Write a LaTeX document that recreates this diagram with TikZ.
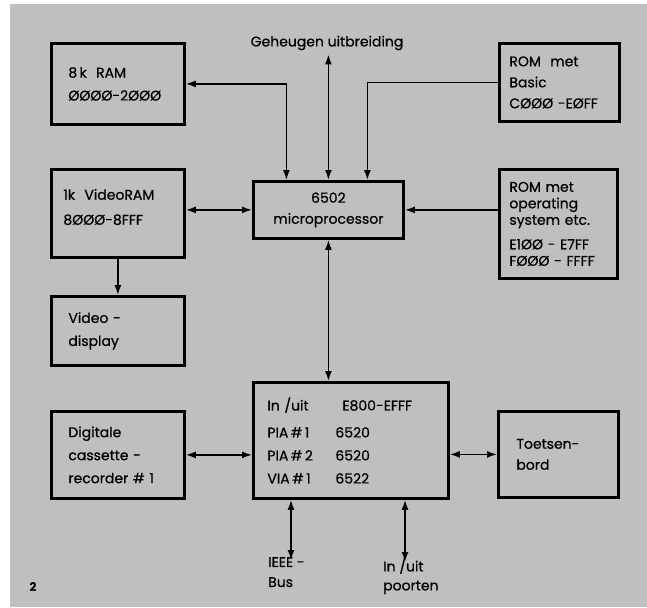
\documentclass[tikz,border=0pt]{standalone}
\usepackage{fontspec}
\setmainfont{Poppins}[UprightFeatures={FakeBold=0.6}]
\usetikzlibrary{arrows.meta,positioning}

\begin{document}
\begin{tikzpicture}[
  x=1pt,
  y=-1pt,
  >={Latex[length=10pt,width=7pt]},
  blok/.style={draw, line width=2.8pt, anchor=north west, align=left, inner sep=0pt, font=\fontsize{14}{17}\selectfont},
  lbl/.style={font=\fontsize{14}{17}\selectfont, align=left, inner sep=0pt},
  link/.style={line width=1.6pt}
]
  % background
  \useasboundingbox (0,0) rectangle (647,607);
  \fill[black!25] (10,4) rectangle (647,607);

  % left column
  \node[blok, minimum width=133pt, minimum height=81pt, text width=99pt, font=\fontsize{14}{23}\selectfont] (ram) at (50,42) {8\,k\ \ RAM\\ØØØØ-2ØØØ};
  \node[blok, minimum width=133pt, minimum height=88pt, text width=109pt, font=\fontsize{14}{25}\selectfont] (vram) at (50,168) {1k\ \ VideoRAM\\8ØØØ-8FFF\\[-12pt]\mbox{}};
  \node[blok, minimum width=133pt, minimum height=69pt, text width=99pt, font=\fontsize{14}{23}\selectfont] (vdisp) at (50,295) {Video -\\display};
  \node[blok, minimum width=133pt, minimum height=87pt, text width=99pt, font=\fontsize{14}{23}\selectfont] (cass) at (50,410) {Digitale\\cassette -\\recorder \# 1};

  % middle column
  \node[blok, minimum width=150pt, minimum height=57pt, align=center, font=\fontsize{14}{21}\selectfont] (cpu) at (252,180) {6502\\microprocessor};
  \node[blok, minimum width=195pt, minimum height=116pt, text width=167pt, font=\fontsize{14}{23}\selectfont] (io) at (252,381)
    {\makebox[75pt][l]{In /uit}E800-EFFF\\[4pt]\makebox[68pt][l]{PIA\,\#\,1}6520\\\makebox[68pt][l]{PIA\,\#\,2}6520\\\makebox[68pt][l]{VIA\,\#\,1}6522};

  % right column
  \node[blok, minimum width=120pt, minimum height=78pt, text width=100pt, font=\fontsize{14}{21}\selectfont] (rombas) at (498,42) {ROM\ \ met\\Basic\\CØØØ -EØFF};
  \node[blok, minimum width=118pt, minimum height=109pt, text width=98pt, font=\fontsize{14}{16.5}\selectfont] (romos) at (498,168) {ROM met\\operating\\system etc.\\[8pt]E1ØØ - E7FF\\FØØØ - FFFF};
  \node[blok, minimum width=120pt, minimum height=86pt, text width=84pt, font=\fontsize{14}{21}\selectfont] (toets) at (497,410) {Toetsen-\\bord};

  % free labels
  \node[lbl] (geh) at (327,43) {Geheugen uitbreiding};
  \node[lbl, anchor=north west, font=\fontsize{14}{20}\selectfont] (ieee) at (268,557) {IEEE -\\Bus};
  \node[lbl, anchor=north west, font=\fontsize{14}{19}\selectfont] (poort) at (383,558) {In /uit\\poorten};
  \node[lbl, font=\bfseries\fontsize{12}{13}\selectfont] (fig) at (33,587) {2};

  % connections
  \draw[link,<->] (cpu.north) -- ([yshift=-4pt]cpu.north |- geh.south);
  \draw[link,<->] (ram.east) -| ([xshift=-42pt]cpu.north);
  \draw[link,->] (rombas.west) -| ([xshift=39pt]cpu.north);
  \draw[link,->] (romos.west |- cpu.east) -- (cpu.east);
  \draw[link,<->] (vram.east |- cpu.west) -- (cpu.west);
  \draw[link,->] (vram.south) -- (vdisp.north);
  \draw[link,<->] (cpu.south) -- (cpu.south |- io.north);
  \draw[link,<->] (cass.east) -- (io.west |- cass.east);
  \draw[link,<->] (io.east |- toets.west) -- (toets.west);
  \draw[link,<->] ([xshift=23pt]ieee.north west |- io.south) -- ([xshift=23pt,yshift=-3pt]ieee.north west);
  \draw[link,<->] ([xshift=22pt]poort.north west |- io.south) -- ([xshift=22pt,yshift=-4pt]poort.north west);
\end{tikzpicture}
\end{document}
